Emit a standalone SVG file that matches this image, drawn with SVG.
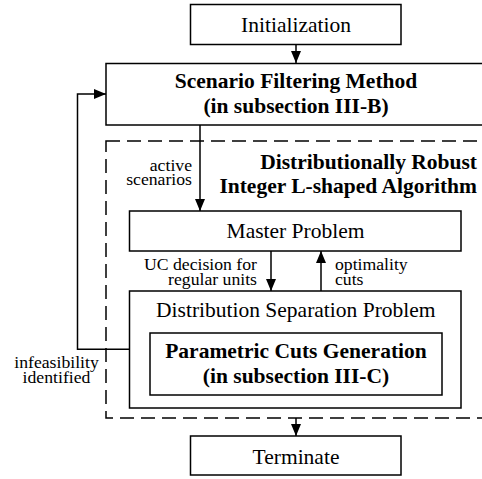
<svg xmlns="http://www.w3.org/2000/svg" width="482" height="479" viewBox="0 0 482 479">
<style>
.box{fill:#fff;stroke:#000;stroke-width:1.5}
.dash{fill:none;stroke:#000;stroke-width:1.5;stroke-dasharray:14 7}
.t{font-family:"Liberation Serif","Times New Roman",serif;font-size:21.5px;fill:#000;text-anchor:middle}
.b{font-weight:bold}
.s{font-family:"Liberation Serif","Times New Roman",serif;font-size:17.7px;fill:#000}
.c{fill:none;stroke:#000;stroke-width:1.5}
</style>
<defs>
<marker id="ah" markerUnits="userSpaceOnUse" markerWidth="12" markerHeight="10" refX="12" refY="5" orient="auto">
<path d="M0,0 L12,5 L0,10 z" fill="#000"/>
</marker>
</defs>
<rect class="dash" x="106" y="141" width="390" height="277"/>
<g id="init"><rect class="box" x="190.5" y="4.5" width="210.5" height="40"/><text class="t" x="296" y="31.5">Initialization</text></g>
<g id="scenario"><rect class="box" x="106" y="63.5" width="390" height="61.5"/><text class="t b" x="296" y="88">Scenario Filtering Method</text><text class="t b" x="296" y="113">(in subsection III-B)</text></g>
<g id="drila"><text class="t b" x="477" y="169" text-anchor="end" style="text-anchor:end">Distributionally Robust</text><text class="t b" x="477" y="193" style="text-anchor:end">Integer L-shaped Algorithm</text></g>
<g id="master"><rect class="box" x="129.5" y="211" width="331.5" height="40"/><text class="t" x="295.5" y="238.3">Master Problem</text></g>
<g id="dsp"><rect class="box" x="129.5" y="291" width="331.5" height="117"/><text class="t" x="295.8" y="317.3">Distribution Separation Problem</text></g>
<g id="pcg"><rect class="box" x="150" y="333" width="292" height="62"/><text class="t b" x="296" y="358.3">Parametric Cuts Generation</text><text class="t b" x="296" y="383">(in subsection III-C)</text></g>
<g id="term"><rect class="box" x="190.5" y="436" width="210.5" height="39"/><text class="t" x="296" y="464">Terminate</text></g>
<g id="connectors">
<line class="c" x1="296" y1="44.5" x2="296" y2="63" marker-end="url(#ah)"/>
<line class="c" x1="200" y1="125" x2="200" y2="211" marker-end="url(#ah)"/>
<line class="c" x1="271" y1="251" x2="271" y2="291" marker-end="url(#ah)"/>
<line class="c" x1="321" y1="291" x2="321" y2="251" marker-end="url(#ah)"/>
<path class="c" d="M129.5,349.3 H77.5 V94 H106" marker-end="url(#ah)"/>
<line class="c" x1="296" y1="418" x2="296" y2="436" marker-end="url(#ah)"/>
<text class="s" x="192" y="170.5" text-anchor="end">active</text>
<text class="s" x="192" y="185" text-anchor="end">scenarios</text>
<text class="s" x="257" y="270" text-anchor="end">UC decision for</text>
<text class="s" x="257" y="285" text-anchor="end">regular units</text>
<text class="s" x="335" y="270">optimality</text>
<text class="s" x="335" y="285">cuts</text>
<text class="s" x="56.5" y="368.3" text-anchor="middle">infeasibility</text>
<text class="s" x="56.5" y="383.3" text-anchor="middle">identified</text>
</g>
</svg>
